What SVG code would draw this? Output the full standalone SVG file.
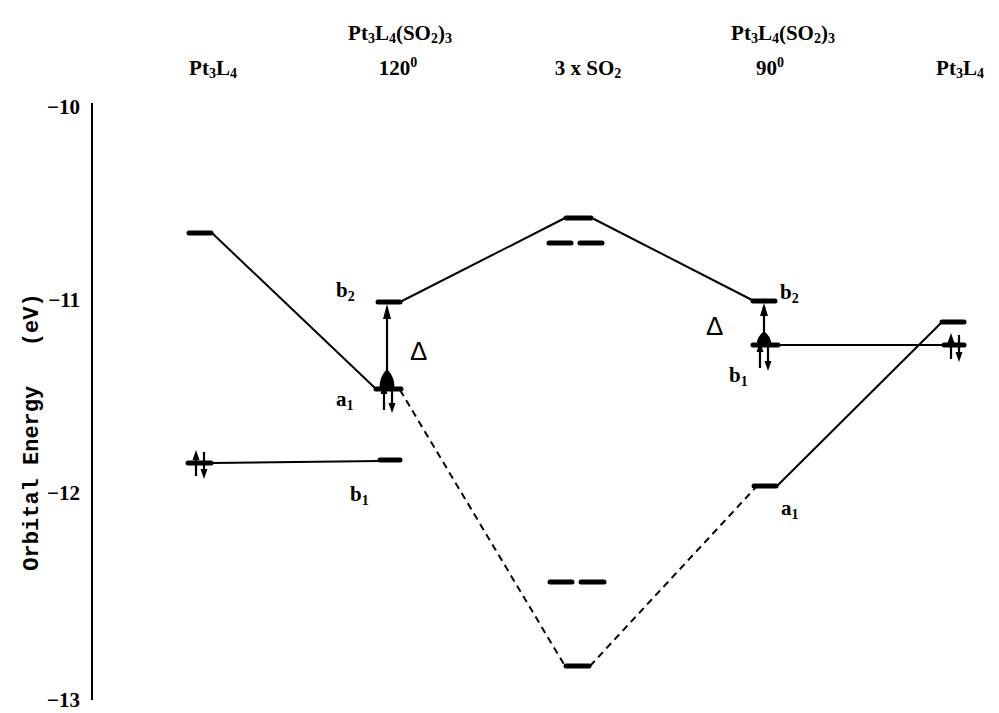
<svg xmlns="http://www.w3.org/2000/svg" width="999" height="713" viewBox="0 0 999 713">
  <style>
    .lbl { font-family: "Liberation Serif", "DejaVu Serif", serif; font-weight: bold; font-size: 21px; fill: #000; }
    .tick { font-family: "Liberation Serif", "DejaVu Serif", serif; font-weight: bold; font-size: 21px; fill: #000; text-anchor: end; }
    .ax { font-family: "Liberation Mono", "DejaVu Sans Mono", monospace; font-weight: bold; font-size: 22px; fill: #000; }
    .sub { font-size: 14px; }
    .lvl { stroke: #000; stroke-width: 5; stroke-linecap: round; }
    .cn { stroke: #000; stroke-width: 2; fill: none; }
    .dash { stroke: #000; stroke-width: 2; fill: none; stroke-dasharray: 7 5; }
    .el { stroke: #000; stroke-width: 2.2; fill: none; }
    .delta { font-family: "Liberation Sans", "DejaVu Sans", sans-serif; font-size: 26px; fill: #000; }
  </style>
  <defs>
    <!-- electron spin pair: up arrow on the left, down arrow on the right -->
    <g id="pair">
      <line class="el" x1="-4" y1="12" x2="-4" y2="-8"/>
      <path d="M-4,-14 L-7.5,-4 L-0.5,-4 Z" fill="#000"/>
      <line class="el" x1="4" y1="-12" x2="4" y2="8"/>
      <path d="M4,15 L0.5,5 L7.5,5 Z" fill="#000"/>
    </g>
  </defs>
  <rect width="999" height="713" fill="#fff"/>

  <!-- energy axis -->
  <g id="axis">
    <line x1="92" y1="103" x2="92" y2="700" stroke="#000" stroke-width="2"/>
    <text class="tick" x="80" y="114">−10</text>
    <text class="tick" x="80" y="307">−11</text>
    <text class="tick" x="80" y="500">−12</text>
    <text class="tick" x="80" y="707">−13</text>
    <text class="ax" transform="translate(38,432) rotate(-90)" text-anchor="middle" xml:space="preserve">Orbital Energy   (eV)</text>
  </g>

  <!-- column headings -->
  <g id="headings">
    <text class="lbl" x="213" y="75" text-anchor="middle">Pt<tspan class="sub" dy="3">3</tspan><tspan dy="-3">L</tspan><tspan class="sub" dy="3">4</tspan></text>
    <text class="lbl" x="400" y="40" text-anchor="middle">Pt<tspan class="sub" dy="3">3</tspan><tspan dy="-3">L</tspan><tspan class="sub" dy="3">4</tspan><tspan dy="-3">(SO</tspan><tspan class="sub" dy="3">2</tspan><tspan dy="-3">)</tspan><tspan class="sub" dy="3">3</tspan></text>
    <text class="lbl" x="398" y="75" text-anchor="middle">120<tspan class="sub" dy="-8">0</tspan></text>
    <text class="lbl" x="588" y="75" text-anchor="middle">3 x SO<tspan class="sub" dy="3">2</tspan></text>
    <text class="lbl" x="783" y="40" text-anchor="middle">Pt<tspan class="sub" dy="3">3</tspan><tspan dy="-3">L</tspan><tspan class="sub" dy="3">4</tspan><tspan dy="-3">(SO</tspan><tspan class="sub" dy="3">2</tspan><tspan dy="-3">)</tspan><tspan class="sub" dy="3">3</tspan></text>
    <text class="lbl" x="770" y="75" text-anchor="middle">90<tspan class="sub" dy="-8">0</tspan></text>
    <text class="lbl" x="960" y="75" text-anchor="middle">Pt<tspan class="sub" dy="3">3</tspan><tspan dy="-3">L</tspan><tspan class="sub" dy="3">4</tspan></text>
  </g>

  <!-- correlation lines -->
  <g id="connectors">
    <polyline class="cn" points="212,233 375,388"/>
    <line x1="212" y1="463" x2="380" y2="461" stroke="#000" stroke-width="2"/>
    <polyline class="cn" points="400,302 565,218"/>
    <polyline class="cn" points="592,218 752,300"/>
    <polyline class="dash" points="400,390 565,666"/>
    <polyline class="dash" points="590,666 757,486"/>
    <polyline class="cn" points="777,486 942,322"/>
    <line x1="778" y1="345" x2="965" y2="345" stroke="#000" stroke-width="2"/>
  </g>

  <!-- left Pt3L4 levels -->
  <g id="pt3l4-left">
    <line class="lvl" x1="189" y1="233" x2="211" y2="233"/>
    <line class="lvl" x1="188" y1="463" x2="211" y2="463"/>
    <use href="#pair" x="200" y="464"/>
  </g>

  <!-- 120 degree complex -->
  <g id="complex-120">
    <line class="lvl" x1="378" y1="302" x2="400" y2="302"/>
    <line class="lvl" x1="376" y1="389" x2="401" y2="389"/>
    <line class="lvl" x1="380" y1="460" x2="400" y2="460"/>
    <line class="el" x1="387" y1="312" x2="387" y2="378"/>
    <path d="M387,304 L383,319 L391,319 Z" fill="#000"/>
    <path d="M387,369 C380,376 379,384 380,390 L394,390 C395,384 394,376 387,369 Z" fill="#000"/>
    <use href="#pair" x="388" y="398"/>
    <text class="lbl" x="336" y="297">b<tspan class="sub" dy="4">2</tspan></text>
    <text class="lbl" x="336" y="406">a<tspan class="sub" dy="4">1</tspan></text>
    <text class="lbl" x="350" y="501">b<tspan class="sub" dy="4">1</tspan></text>
    <text class="delta" x="410" y="360">Δ</text>
  </g>

  <!-- 3 x SO2 fragment levels -->
  <g id="so2">
    <line class="lvl" x1="566" y1="218" x2="591" y2="218"/>
    <line class="lvl" x1="549" y1="243" x2="571" y2="243"/>
    <line class="lvl" x1="580" y1="243" x2="602" y2="243"/>
    <line class="lvl" x1="550" y1="582" x2="572" y2="582"/>
    <line class="lvl" x1="581" y1="582" x2="604" y2="582"/>
    <line class="lvl" x1="566" y1="666" x2="589" y2="666"/>
  </g>

  <!-- 90 degree complex -->
  <g id="complex-90">
    <line class="lvl" x1="753" y1="301" x2="775" y2="301"/>
    <line class="lvl" x1="753" y1="345" x2="778" y2="345"/>
    <line class="lvl" x1="754" y1="486" x2="776" y2="486"/>
    <line class="el" x1="764" y1="309" x2="764" y2="336"/>
    <path d="M764,303 L760,316 L768,316 Z" fill="#000"/>
    <path d="M764,331 C758,336 756,341 757,346 L771,346 C772,341 770,336 764,331 Z" fill="#000"/>
    <use href="#pair" x="764" y="356"/>
    <text class="lbl" x="780" y="299">b<tspan class="sub" dy="4">2</tspan></text>
    <text class="lbl" x="729" y="382">b<tspan class="sub" dy="4">1</tspan></text>
    <text class="lbl" x="781" y="515">a<tspan class="sub" dy="4">1</tspan></text>
    <text class="delta" x="706" y="335">Δ</text>
  </g>

  <!-- right Pt3L4 levels -->
  <g id="pt3l4-right">
    <line class="lvl" x1="942" y1="322" x2="964" y2="322"/>
    <line class="lvl" x1="944" y1="345" x2="964" y2="345"/>
    <use href="#pair" x="955" y="347"/>
  </g>
</svg>
